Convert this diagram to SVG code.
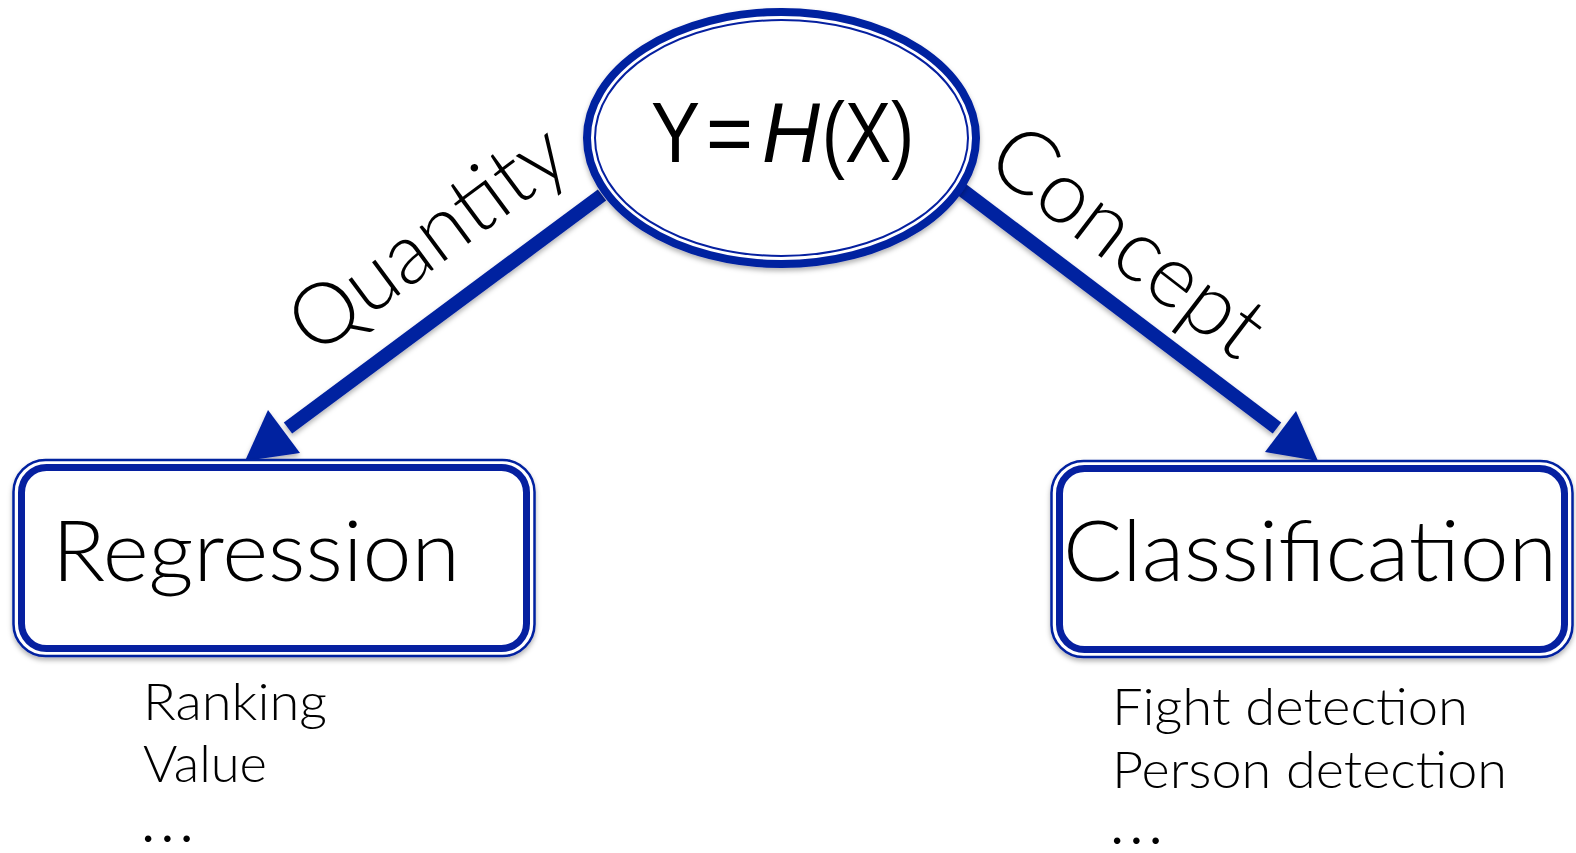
<svg xmlns="http://www.w3.org/2000/svg" width="1576" height="853" viewBox="0 0 1576 853">
<defs>
<filter id="sh" x="-10%" y="-10%" width="120%" height="130%">
<feDropShadow dx="0" dy="3" stdDeviation="2.5" flood-color="#000" flood-opacity="0.3"/>
</filter>
</defs>
<style>
.blue{fill:none;stroke:#0620a0}
.fillw{fill:#fff}
.lbl{font-family:Lato,"Open Sans","Liberation Sans",sans-serif;font-weight:300;fill:#000}
.eq{font-family:"Liberation Sans",Arial,sans-serif;font-size:86px;fill:#000}
.head{fill:#0620a0}
.shaft{stroke:#0620a0;stroke-width:14;fill:none}
.dots{letter-spacing:7px;font-weight:400}
</style>
<rect width="1576" height="853" fill="#fff"/>
<g id="connectors" filter="url(#sh)">
<line class="shaft" x1="602" y1="195" x2="288" y2="428"/>
<polygon class="head" points="245,461 268,410 300,453"/>
<line class="shaft" x1="961" y1="189" x2="1277" y2="428"/>
<polygon class="head" points="1318,461 1296,411 1265,452"/>
</g>
<g id="node-root">
<g filter="url(#sh)">
<ellipse cx="781.5" cy="138" rx="194.5" ry="126" class="fillw" stroke="#0620a0" stroke-width="8"/>
</g>
<ellipse cx="781.5" cy="138" rx="186.5" ry="118" class="blue" stroke-width="2"/>
<text class="eq" x="651" y="162" textLength="49" lengthAdjust="spacingAndGlyphs">Y</text>
<text class="eq" x="706" y="162" textLength="47" lengthAdjust="spacingAndGlyphs">=</text>
<text class="eq" x="762" y="162" font-style="italic" textLength="58" lengthAdjust="spacingAndGlyphs">H</text>
<text class="eq" x="822" y="162" textLength="92" lengthAdjust="spacingAndGlyphs">(X)</text>
</g>
<g id="label-quantity">
<text class="lbl" font-size="85" transform="translate(315,357) rotate(-36.5)">Quantity</text>
</g>
<g id="label-concept">
<text class="lbl" font-size="88" transform="translate(983,167) rotate(37.5)">Concept</text>
</g>
<g id="node-regression">
<g filter="url(#sh)">
<rect x="13.5" y="460" width="521" height="196" rx="32" class="fillw" stroke="#0620a0" stroke-width="2.5"/>
</g>
<rect x="21.5" y="467.5" width="505" height="181" rx="25" class="blue" stroke-width="7"/>
<text class="lbl" x="52" y="581" font-size="84" textLength="408" lengthAdjust="spacingAndGlyphs">Regression</text>
</g>
<g id="node-classification">
<g filter="url(#sh)">
<rect x="1051.5" y="461" width="521" height="196" rx="32" class="fillw" stroke="#0620a0" stroke-width="2.5"/>
</g>
<rect x="1059.5" y="468.5" width="505" height="181" rx="25" class="blue" stroke-width="7"/>
<text class="lbl" x="1063" y="581" font-size="84" textLength="494" lengthAdjust="spacingAndGlyphs">Classification</text>
</g>
<g id="regression-examples">
<text class="lbl" x="143" y="720" font-size="52" textLength="184" lengthAdjust="spacingAndGlyphs">Ranking</text>
<text class="lbl" x="143" y="782" font-size="52" textLength="124" lengthAdjust="spacingAndGlyphs">Value</text>
<text class="lbl dots" x="142" y="842" font-size="52">...</text>
</g>
<g id="classification-examples">
<text class="lbl" x="1112" y="725" font-size="52" textLength="356" lengthAdjust="spacingAndGlyphs">Fight detection</text>
<text class="lbl" x="1112" y="788" font-size="52" textLength="395" lengthAdjust="spacingAndGlyphs">Person detection</text>
<text class="lbl dots" x="1111" y="844" font-size="52">...</text>
</g>
</svg>
